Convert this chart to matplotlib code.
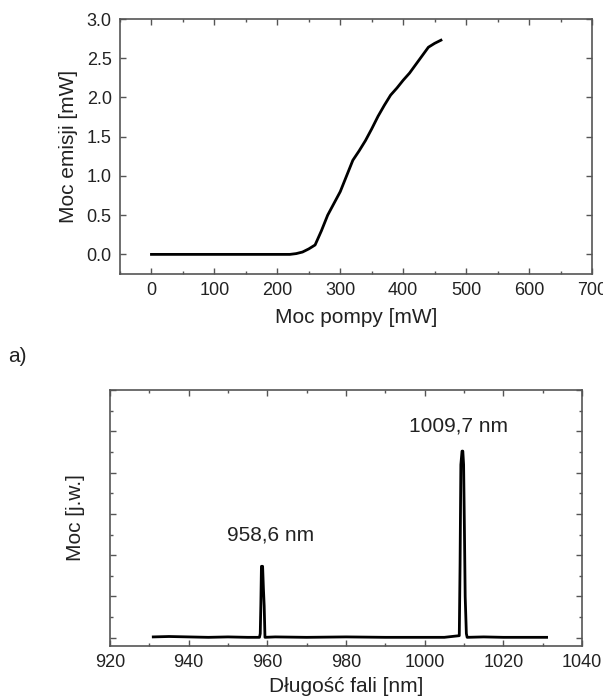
import matplotlib

matplotlib.use("Agg")
import matplotlib.pyplot as plt
from matplotlib.ticker import FormatStrFormatter, MultipleLocator

plt.rcParams["font.family"] = ["Liberation Sans", "DejaVu Sans"]

# laser characteristic: pump power vs emitted power
PUMP_MW = [0, 50, 100, 150, 200, 220, 230, 240, 250, 260, 270, 280, 290, 300, 310,
           320, 330, 340, 350, 360, 370, 380, 390, 400, 410, 420, 430, 440, 450, 460]
EMISSION_MW = [0.0, 0.0, 0.0, 0.0, 0.0, 0.0, 0.01, 0.03, 0.07, 0.12, 0.30, 0.50, 0.65, 0.80, 1.00,
               1.20, 1.32, 1.45, 1.60, 1.76, 1.90, 2.03, 2.12, 2.22, 2.31, 2.42, 2.53, 2.64, 2.69, 2.73]

# emission spectrum (arbitrary units)
WAVELENGTH_NM = [931.0, 935.0, 940.0, 945.0, 950.0, 955.0, 958.0, 958.2, 958.35, 958.5, 958.8,
                 959.0, 959.2, 959.4, 962.0, 970.0, 980.0, 990.0, 1000.0, 1005.0, 1008.8, 1009.0,
                 1009.2, 1009.5, 1009.7, 1009.9, 1010.1, 1010.3, 1010.6, 1010.8, 1015.0, 1020.0,
                 1025.0, 1031.0]
POWER_AU = [0.02, 0.03, 0.02, 0.01, 0.02, 0.01, 0.01, 0.10, 0.80, 1.73, 1.73,
            1.20, 0.77, 0.01, 0.02, 0.01, 0.02, 0.01, 0.01, 0.01, 0.05, 1.77,
            4.19, 4.52, 4.52, 4.19, 2.68, 1.00, 0.10, 0.01, 0.02, 0.01,
            0.01, 0.01]

PEAK_LABELS = ["958,6 nm", "1009,7 nm"]
PEAK_LABEL_X = [960.7, 1008.5]
PEAK_LABEL_Y = [2.5, 5.14]

FRAME = "#555555"
TEXT = "#222222"


def style_axes(ax):
    for spine in ax.spines.values():
        spine.set_color(FRAME)
        spine.set_linewidth(1.2)
    ax.tick_params(which="both", direction="in", top=True, right=True, colors=FRAME,
                   labelcolor=TEXT, labelsize=13, pad=6)
    ax.tick_params(which="major", length=4, width=1)
    ax.tick_params(which="minor", length=2, width=1)


fig = plt.figure(figsize=(6.03, 6.97), dpi=100)

# top panel
ax1 = fig.add_axes([120 / 603, 1 - 274 / 697, 472 / 603, 255 / 697])
ax1.plot(PUMP_MW, EMISSION_MW, color="black", lw=2)
ax1.set_xlim(-50, 700)
ax1.set_ylim(-0.25, 3.0)
ax1.xaxis.set_major_locator(MultipleLocator(100))
ax1.xaxis.set_minor_locator(MultipleLocator(50))
ax1.yaxis.set_major_locator(MultipleLocator(0.5))
ax1.yaxis.set_major_formatter(FormatStrFormatter("%.1f"))
ax1.set_xlabel("Moc pompy [mW]", fontsize=15, color=TEXT, labelpad=6)
ax1.set_ylabel("Moc emisji [mW]", fontsize=15, color=TEXT, labelpad=6)
style_axes(ax1)

fig.text(8 / 603, 1 - 356 / 697, "a)", fontsize=15, color=TEXT, va="center", ha="left")

# bottom panel
ax2 = fig.add_axes([110 / 603, 1 - 646 / 697, 472 / 603, 256 / 697])
ax2.plot(WAVELENGTH_NM, POWER_AU, color="black", lw=2)
ax2.set_xlim(920, 1040)
ax2.set_ylim(-0.2, 6.0)
ax2.xaxis.set_major_locator(MultipleLocator(20))
ax2.xaxis.set_minor_locator(MultipleLocator(10))
ax2.yaxis.set_major_locator(MultipleLocator(1))
ax2.yaxis.set_minor_locator(MultipleLocator(0.5))
ax2.set_xlabel("Długość fali [nm]", fontsize=15, color=TEXT, labelpad=4)
ax2.set_ylabel("Moc [j.w.]", fontsize=15, color=TEXT, labelpad=12)
style_axes(ax2)
ax2.tick_params(axis="y", labelleft=False)
for label, x, y in zip(PEAK_LABELS, PEAK_LABEL_X, PEAK_LABEL_Y):
    ax2.text(x, y, label, fontsize=15, color=TEXT, ha="center", va="center")

fig.savefig("out.png", dpi=100)
